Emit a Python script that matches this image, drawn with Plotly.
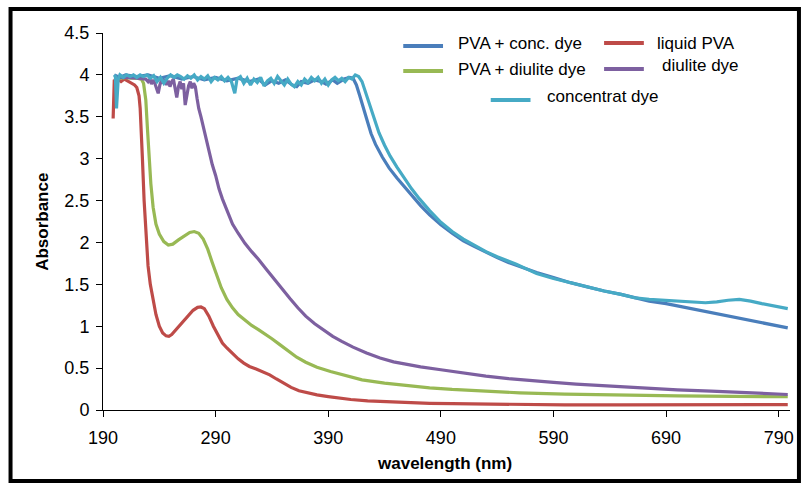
import plotly.graph_objects as go

# ---------------- data ----------------
wl_red = [199, 200, 203, 206, 209, 212, 215, 218, 220, 222, 223, 224, 225, 226.5, 228, 230, 232, 234.5, 237, 240,
          243, 246, 248.5, 251, 255, 260, 265, 270, 274, 277, 280, 284, 288, 292, 296, 300, 305, 310, 315, 320,
          326, 332, 338, 344, 350, 357, 364, 372, 380, 390, 400, 410, 425, 440, 460, 480, 500, 530, 560, 600,
          650, 700, 750, 798]
abs_red = [3.48, 3.93, 3.95, 3.92, 3.95, 3.93, 3.90, 3.88, 3.85, 3.75, 3.60, 3.35, 3.00, 2.50, 2.10, 1.72, 1.50, 1.30, 1.14, 1.00,
           0.92, 0.885, 0.88, 0.90, 0.96, 1.04, 1.12, 1.19, 1.225, 1.23, 1.21, 1.12, 1.00, 0.89, 0.80, 0.74, 0.67, 0.61, 0.56, 0.52,
           0.49, 0.46, 0.42, 0.37, 0.32, 0.27, 0.23, 0.20, 0.18, 0.16, 0.14, 0.125, 0.11, 0.10, 0.088, 0.08, 0.075, 0.07, 0.066, 0.062,
           0.06, 0.06, 0.062, 0.065]

wl_green = [200, 205, 210, 215, 220, 224, 226, 228, 229.5, 231, 232.5, 234.5, 237, 240, 244, 248, 252, 257, 262, 267,
            271, 275, 279, 283, 287, 291, 295, 300, 305, 310, 316, 322, 328, 334, 340, 347, 354, 362, 370, 380,
            392, 405, 420, 440, 460, 480, 500, 530, 560, 600, 650, 700, 750, 798]
abs_green = [3.97, 3.96, 3.97, 3.96, 3.96, 3.95, 3.90, 3.70, 3.35, 3.00, 2.70, 2.42, 2.22, 2.10, 2.01, 1.97, 1.98, 2.03, 2.08, 2.12,
             2.13, 2.11, 2.04, 1.92, 1.76, 1.60, 1.46, 1.32, 1.22, 1.14, 1.07, 1.01, 0.96, 0.91, 0.85, 0.78, 0.71, 0.63, 0.57, 0.51,
             0.46, 0.41, 0.36, 0.32, 0.29, 0.265, 0.245, 0.225, 0.205, 0.19, 0.175, 0.168, 0.162, 0.158]

wl_purple = [200, 210, 220, 228, 230, 231.5, 233, 234.5, 236, 237.5, 239, 240.5, 242, 243.5, 245, 246.5, 248, 249.5, 251,
             252.5, 254, 255.5, 257, 258.5, 260, 261.5, 263, 264.5, 266, 267.5, 269, 270.5, 272, 273.5, 275, 277, 279,
             281, 283, 285, 287, 290, 293, 296, 300, 305, 310, 316, 322, 328, 335, 342, 349, 356, 363, 370, 378, 386,
             394, 402, 412, 424, 436, 448, 460, 472, 490, 510, 530, 550, 570, 590, 610, 640, 670, 700, 730, 760, 798]
abs_purple = [3.97, 3.97, 3.96, 3.95, 3.92, 3.95, 3.89, 3.94, 3.90, 3.84, 3.78, 3.88, 3.94, 3.90, 3.95, 3.88, 3.93, 3.86, 3.92,
              3.95, 3.84, 3.73, 3.86, 3.92, 3.83, 3.90, 3.64, 3.76, 3.87, 3.92, 3.84, 3.90, 3.86, 3.72, 3.60, 3.50, 3.38,
              3.26, 3.13, 3.03, 2.93, 2.80, 2.64, 2.52, 2.38, 2.22, 2.11, 1.99, 1.89, 1.80, 1.68, 1.56, 1.44, 1.33, 1.22, 1.12, 1.03, 0.95,
              0.88, 0.82, 0.75, 0.68, 0.62, 0.575, 0.545, 0.515, 0.48, 0.44, 0.405, 0.375, 0.35, 0.33, 0.31, 0.285, 0.26, 0.24, 0.225, 0.205, 0.185]

wl_blue = [200, 205, 210, 220, 230, 240, 250, 260, 270, 280, 290, 300, 310, 320, 328, 334, 340, 346, 352, 358,
           362, 366, 372, 378, 384, 388, 394, 398, 404, 409, 412, 415, 418, 421, 424, 428, 432, 438, 444, 451,
           458, 465, 472, 480, 490, 500, 510, 520, 530, 540, 550, 560, 575, 590, 605, 620, 635, 650, 662, 675,
           690, 705, 720, 740, 755, 770, 785, 798]
abs_blue = [4.00, 3.97, 4.00, 3.98, 4.00, 3.96, 3.99, 3.95, 3.98, 3.94, 3.97, 3.93, 3.96, 3.92, 3.95, 3.88, 3.93, 3.90, 3.94, 3.88,
            3.86, 3.92, 3.90, 3.94, 3.92, 3.89, 3.94, 3.90, 3.95, 3.97, 3.96, 3.88, 3.75, 3.60, 3.48, 3.30, 3.17, 3.02, 2.89, 2.77,
            2.66, 2.55, 2.44, 2.33, 2.21, 2.11, 2.02, 1.95, 1.88, 1.82, 1.76, 1.71, 1.64, 1.58, 1.52, 1.47, 1.42, 1.38, 1.34, 1.30,
            1.27, 1.23, 1.19, 1.14, 1.10, 1.06, 1.02, 0.98]

wl_cyan = [200, 201, 202, 203.5, 205, 208, 211, 214, 217, 220, 223, 226, 229, 232, 235, 238, 241, 244, 247, 250,
           253, 256, 259, 262, 265, 268, 271, 274, 277, 280, 283, 286, 289, 292, 295, 298, 301, 304, 307, 309,
           312, 315, 318, 321, 324, 327, 330, 333, 336, 339, 342, 345, 348, 351, 354, 357, 360, 363, 366, 369,
           372, 375, 378, 381, 384, 387, 390, 393, 396, 399, 402, 405, 408, 411, 414, 417, 420, 423, 426, 430,
           435, 440, 445, 451, 457, 464, 471, 480, 490, 500, 510, 520, 530, 540, 550, 557, 565, 575, 590, 605,
           620, 635, 650, 662, 675, 690, 700, 712, 725, 735, 745, 755, 765, 775, 785, 798]
abs_cyan = [4.00, 3.98, 3.60, 3.95, 4.00, 3.97, 4.00, 3.98, 4.00, 3.97, 4.00, 3.98, 4.00, 3.96, 3.99, 3.92, 3.97, 3.90, 3.96, 4.00,
            3.97, 4.00, 3.98, 3.95, 3.99, 3.96, 4.00, 3.94, 3.98, 3.95, 3.99, 3.92, 3.97, 3.94, 3.98, 3.93, 3.97, 3.92, 3.78, 3.95,
            3.98, 3.90, 3.96, 3.88, 3.95, 3.91, 3.97, 3.87, 3.93, 3.96, 3.90, 3.98, 3.93, 3.88, 3.95, 3.89, 3.86, 3.92, 3.88, 3.95,
            3.91, 3.97, 3.93, 3.97, 3.90, 3.95, 3.88, 3.94, 3.97, 3.93, 3.96, 3.92, 3.97, 3.95, 4.00, 3.98, 3.92, 3.80, 3.66, 3.50,
            3.31, 3.16, 3.03, 2.90, 2.78, 2.64, 2.52, 2.38, 2.24, 2.13, 2.04, 1.96, 1.89, 1.83, 1.78, 1.74, 1.69, 1.63, 1.57, 1.52,
            1.47, 1.42, 1.38, 1.34, 1.32, 1.31, 1.30, 1.29, 1.28, 1.29, 1.31, 1.32, 1.30, 1.27, 1.24, 1.21]

series_names = ["liquid PVA", "PVA + diulite dye", "diulite dye", "PVA + conc. dye", "concentrat dye"]
series_colors = ["#BE4B48", "#98B954", "#7D60A0", "#4A7EBB", "#46AAC5"]
x_ticks = [190, 290, 390, 490, 590, 690, 790]
y_ticks = [0, 0.5, 1, 1.5, 2, 2.5, 3, 3.5, 4, 4.5]

# ---------------- figure ----------------
W, H = 806, 484
ML, MR, MT, MB = 103, 12, 33, 74
PW, PH = W - ML - MR, H - MT - MB

def px(x):
    return (x - ML) / PW

def py(y):
    return (H - MB - y) / PH

xs = [wl_red, wl_green, wl_purple, wl_blue, wl_cyan]
ys = [abs_red, abs_green, abs_purple, abs_blue, abs_cyan]

fig = go.Figure()
for x, y, n, c in zip(xs, ys, series_names, series_colors):
    fig.add_trace(go.Scatter(x=x, y=y, name=n, mode="lines",
                             line=dict(color=c, width=3.2), showlegend=False))

FONT = "Liberation Sans, Arial, sans-serif"
tick_font = dict(family=FONT, size=18, color="#000000")
fig.update_layout(
    width=W, height=H,
    margin=dict(l=ML, r=MR, t=MT, b=MB),
    paper_bgcolor="white", plot_bgcolor="white",
    xaxis=dict(range=[190, 800], tickvals=x_ticks, ticktext=[str(v) for v in x_ticks],
               showgrid=False, zeroline=False, showline=True, linecolor="black", linewidth=1,
               ticks="outside", ticklen=6, tickcolor="black", tickfont=tick_font, ticklabelstandoff=5),
    yaxis=dict(range=[0, 4.5], tickvals=y_ticks, showgrid=False, zeroline=False,
               showline=True, linecolor="black", linewidth=1,
               ticks="outside", ticklen=6, tickcolor="black", tickfont=tick_font, ticklabelstandoff=3),
    font=dict(family=FONT, color="black"),
)

ann = []
ann.append(dict(text="<b>Absorbance</b>", xref="paper", yref="paper", x=px(42), y=0.5,
                textangle=-90, showarrow=False, xanchor="center", yanchor="middle",
                font=dict(size=17, family=FONT)))
ann.append(dict(text="<b>wavelength (nm)</b>", xref="paper", yref="paper", x=px(446), y=py(463),
                showarrow=False, xanchor="center", yanchor="middle",
                font=dict(size=17, family=FONT)))

# legend (manual layout as in the original)
leg = [  # (series index, line x0, line x1, line y, text x, text y)
    (3, 405, 445, 46, 458, 44),
    (0, 607, 647, 43, 658, 43),
    (1, 405, 445, 71, 458, 69.5),
    (2, 607, 647, 69, 663, 65),
    (4, 493, 533, 100, 548, 97),
]
shapes = []
for i, x0, x1, ly, tx, ty in leg:
    shapes.append(dict(type="line", xref="paper", yref="paper", x0=px(x0), x1=px(x1), y0=py(ly), y1=py(ly),
                       line=dict(color=series_colors[i], width=4)))
    ann.append(dict(text=series_names[i], xref="paper", yref="paper", x=px(tx), y=py(ty),
                    showarrow=False, xanchor="left", yanchor="middle",
                    font=dict(size=17, family=FONT)))

# outer black frame
shapes.append(dict(type="rect", xref="paper", yref="paper", x0=px(10), x1=px(803), y0=py(481), y1=py(9),
                   line=dict(color="black", width=4), fillcolor="rgba(0,0,0,0)"))

fig.update_layout(annotations=ann, shapes=shapes)
fig.write_html("out.html", config={"displayModeBar": False},
               post_script="document.body.style.margin='0px';document.body.style.overflow='hidden';")
